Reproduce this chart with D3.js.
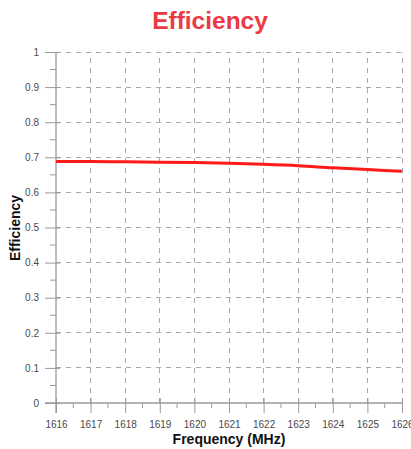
<!DOCTYPE html>
<html><head><meta charset="utf-8">
<script src="https://cdn.jsdelivr.net/npm/d3@7"></script>
<style>body{margin:0;background:#fff;}svg{display:block;font-family:"Liberation Sans",Arial,sans-serif;}</style>
</head><body>
<svg id="c" width="411" height="449"></svg>
<script>
const frequencies = [1616,1617,1618,1619,1620,1621,1622,1623,1624,1625,1626];
const efficiency  = [0.688,0.688,0.687,0.686,0.685,0.683,0.680,0.676,0.670,0.665,0.660];
const xTicks = [1616,1617,1618,1619,1620,1621,1622,1623,1624,1625,1626];
const yTicks = [0,0.1,0.2,0.3,0.4,0.5,0.6,0.7,0.8,0.9,1];
const title = "Efficiency", xLabel = "Frequency (MHz)", yLabel = "Efficiency";

const svg = d3.select("#c");
const L=56, R=402, T=52, B=403;
const x = d3.scaleLinear().domain([1616,1626]).range([L,R]);
const y = d3.scaleLinear().domain([0,1]).range([B,T]);
const grid = "#a8a8a8", axisC = "#9a9a9a", tickText = "#4a4a4a";

// grid
svg.append("g").selectAll("line").data(yTicks.filter(d=>d>0)).join("line")
  .attr("x1",L).attr("x2",R).attr("y1",d=>y(d)).attr("y2",d=>y(d))
  .attr("stroke",grid).attr("stroke-width",1).attr("stroke-dasharray","5,5").attr("shape-rendering","crispEdges");
svg.append("g").selectAll("line").data(xTicks.filter(d=>d>1616)).join("line")
  .attr("x1",d=>x(d)).attr("x2",d=>x(d)).attr("y1",B).attr("y2",T)
  .attr("stroke",grid).attr("stroke-width",1).attr("stroke-dasharray","5,5").attr("shape-rendering","crispEdges");

// y axis
const ya = svg.append("g").attr("transform",`translate(${L},0)`)
  .call(d3.axisLeft(y).tickValues(yTicks).tickSize(11).tickPadding(6).tickFormat(d3.format("~g")));
ya.select(".domain").remove();
ya.selectAll(".tick line").attr("x2",-11).attr("x1",4).attr("stroke",axisC);
ya.selectAll(".tick text").attr("fill",tickText).attr("font-size",10).attr("font-family","Liberation Sans, Arial, sans-serif");
const yMinor = d3.range(0.05,1,0.1);
ya.append("g").selectAll("line").data(yMinor).join("line")
  .attr("x1",-6).attr("x2",0).attr("y1",d=>y(d)).attr("y2",d=>y(d)).attr("stroke",axisC);
ya.append("line").attr("x1",0).attr("x2",0).attr("y1",y(1)).attr("y2",B+10).attr("stroke",axisC).attr("stroke-width",1.3);

// x axis
const xa = svg.append("g").attr("transform",`translate(0,${B})`)
  .call(d3.axisBottom(x).tickValues(xTicks).tickSize(10).tickPadding(8).tickFormat(d3.format("d")));
xa.select(".domain").remove();
xa.selectAll(".tick line").attr("y1",-5).attr("y2",10).attr("stroke",axisC);
xa.selectAll(".tick text").attr("fill",tickText).attr("font-size",10).attr("font-family","Liberation Sans, Arial, sans-serif");
const xMinor = d3.range(1616.5,1626,1);
xa.append("g").selectAll("line").data(xMinor).join("line")
  .attr("x1",d=>x(d)).attr("x2",d=>x(d)).attr("y1",0).attr("y2",5).attr("stroke",axisC);
xa.append("line").attr("x1",L-11).attr("x2",R).attr("y1",0).attr("y2",0).attr("stroke",axisC).attr("stroke-width",1.3);

// line
svg.append("path").datum(frequencies.map((f,i)=>[f,efficiency[i]]))
  .attr("fill","none").attr("stroke","#ff1a1a").attr("stroke-width",3)
  .attr("d",d3.line().x(d=>x(d[0])).y(d=>y(d[1])).curve(d3.curveMonotoneX));

// texts
svg.append("text").attr("x",210).attr("y",29).attr("text-anchor","middle")
  .attr("font-size",24.5).attr("font-weight","bold").attr("fill","#ec3a42").text(title);
svg.append("text").attr("x",229).attr("y",444).attr("text-anchor","middle")
  .attr("font-size",14).attr("font-weight","bold").attr("fill","#111").text(xLabel);
svg.append("text").attr("transform","translate(20,228) rotate(-90)").attr("text-anchor","middle")
  .attr("font-size",14).attr("font-weight","bold").attr("fill","#111").text(yLabel);
</script>
</body></html>
